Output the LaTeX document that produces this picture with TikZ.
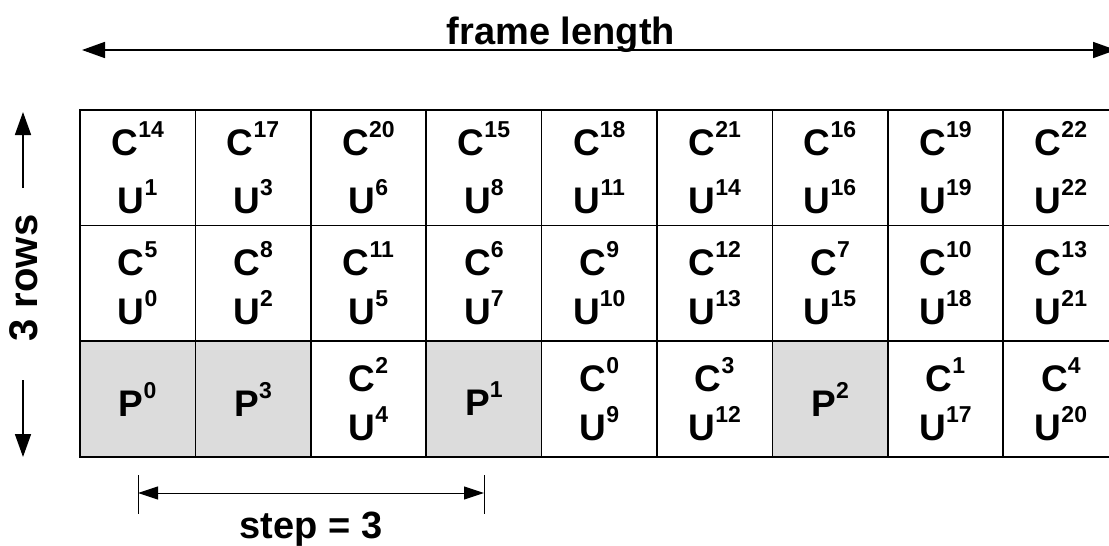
\documentclass[tikz,border=0pt]{standalone}
\usepackage{fontspec}
\setmainfont{Liberation Sans}
\usetikzlibrary{arrows.meta}
\definecolor{pilotgray}{RGB}{220,220,220}
\newcommand{\ix}[1]{\raisebox{9pt}{\fontsize{11.5}{11.5}\selectfont #1}}
\tikzstyle{cell} = [rectangle, draw=black, line width=0.8pt, minimum width=57.7pt, minimum height=57.8pt, inner sep=0pt, align=center, font=\fontsize{18.5}{24.5}\selectfont\bfseries]
\tikzstyle{topcell} = [cell, font=\fontsize{18.5}{29}\selectfont\bfseries]
\tikzstyle{pcell} = [cell, fill=pilotgray]
\tikzstyle{txt} = [inner sep=0pt, font=\fontsize{19}{23}\selectfont\bfseries]
\tikzstyle{arrow} = [line width=0.85pt, -{Triangle[length=11.5pt, width=8pt]}]
\tikzstyle{dblarrow} = [line width=0.85pt, {Triangle[length=11.5pt, width=8pt]}-{Triangle[length=11.5pt, width=8pt]}]
\tikzstyle{steparrow} = [line width=0.5pt, {Triangle[length=10pt, width=6.5pt]}-{Triangle[length=10pt, width=6.5pt]}]
\tikzstyle{bar} = [line width=0.5pt]

\begin{document}
\begin{tikzpicture}[x=0.5pt, y=-0.5pt]
\useasboundingbox (0,0) rectangle (1109,546);

% 第一行
\foreach \txt [count=\i] in {{C\ix{14}\\U\ix{1}}, {C\ix{17}\\U\ix{3}}, {C\ix{20}\\U\ix{6}}, {C\ix{15}\\U\ix{8}}, {C\ix{18}\\U\ix{11}}, {C\ix{21}\\U\ix{14}}, {C\ix{16}\\U\ix{16}}, {C\ix{19}\\U\ix{19}}, {C\ix{22}\\U\ix{22}}}
  \node (top\i) [topcell] at (80+115.4*\i-57.7, 167.8) {\txt};

% 第二行
\foreach \txt [count=\i] in {{C\ix{5}\\U\ix{0}}, {C\ix{8}\\U\ix{2}}, {C\ix{11}\\U\ix{5}}, {C\ix{6}\\U\ix{7}}, {C\ix{9}\\U\ix{10}}, {C\ix{12}\\U\ix{13}}, {C\ix{7}\\U\ix{15}}, {C\ix{10}\\U\ix{18}}, {C\ix{13}\\U\ix{21}}}
  \node (mid\i) [cell] at (80+115.4*\i-57.7, 283.4) {\txt};

% 第三行 (导频)
\foreach \sty/\txt [count=\i] in {pcell/{P\ix{0}}, pcell/{P\ix{3}}, cell/{C\ix{2}\\U\ix{4}}, pcell/{P\ix{1}}, cell/{C\ix{0}\\U\ix{9}}, cell/{C\ix{3}\\U\ix{12}}, pcell/{P\ix{2}}, cell/{C\ix{1}\\U\ix{17}}, cell/{C\ix{4}\\U\ix{20}}}
  \node (bot\i) [\sty] at (80+115.4*\i-57.7, 399) {\txt};

% 帧长
\coordinate (fl-l) at (82,50);
\coordinate (fl-r) at (1116,50);
\draw [dblarrow] (fl-l) -- (fl-r);
\node (frame) [txt, anchor=base] at (561,44) {frame length};

% 行数
\node (rows) [txt, font=\fontsize{20}{24}\selectfont\bfseries, rotate=90, anchor=base] at (37,278) {3 rows};
\coordinate (up-s) at (23,188);
\coordinate (up-e) at (23,112);
\coordinate (dn-s) at (23,380);
\coordinate (dn-e) at (23,457);
\draw [arrow] (up-s) -- (up-e);
\draw [arrow] (dn-s) -- (dn-e);

% 步长
\coordinate (st-l) at (138,493);
\coordinate (st-r) at (484,493);
\draw [bar] (st-l) ++(0,-18) -- ++(0,39);
\draw [bar] (st-r) ++(0,-18) -- ++(0,39);
\draw [steparrow] (st-l) -- (st-r);
\node (step) [txt, anchor=base] at (311,538) {step = 3};
\end{tikzpicture}
\end{document}
